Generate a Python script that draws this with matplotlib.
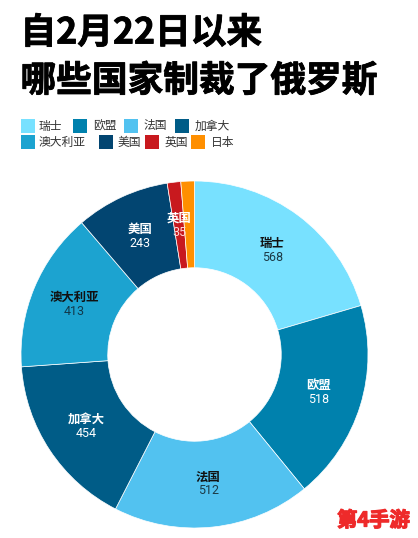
import numpy as np
import matplotlib
matplotlib.use("Agg")
import matplotlib.pyplot as plt
from matplotlib.patches import Rectangle
import matplotlib.patheffects as pe

plt.rcParams['font.family'] = ['Noto Sans CJK SC', 'DejaVu Sans']

categories = ["瑞士", "欧盟", "法国", "加拿大", "澳大利亚", "美国", "英国", "日本"]
values = [568, 518, 512, 454, 413, 243, 35, 35]
colors = ["#78E1FF", "#0081AD", "#52C2F0", "#005C87", "#1CA3D0", "#024571", "#C8191E", "#FF8F00"]
label_colors = ["#111111", "#FFFFFF", "#111111", "#FFFFFF", "#111111", "#FFFFFF", "#FFFFFF", None]
value_colors = ["#1c3a46", "#FFFFFF", "#1c3a46", "#FFFFFF", "#12384a", "#FFFFFF", "#FFD9D9", None]
title_lines = ["自2月22日以来", "哪些国家制裁了俄罗斯"]
watermark = "第4手游"

W, H = 418, 538
fig = plt.figure(figsize=(W / 100, H / 100), dpi=100, facecolor="white")

def fx(x):
    return x / W

def fy(y):
    return 1 - y / H

# Donut
cx, cy, R = 194.5, 354.5, 173.5
ax = fig.add_axes([fx(cx - R), fy(cy + R), 2 * R / W, 2 * R / H])
wedges, _ = ax.pie(values, colors=colors, startangle=90, counterclock=False, radius=1,
                   wedgeprops=dict(width=0.5, edgecolor="white", linewidth=0.5))
ax.set_xlim(-1, 1)
ax.set_ylim(-1, 1)
ax.set_aspect("equal")
ax.axis("off")

label_r = 0.75
for w, name, val, lc, vc in zip(wedges, categories, values, label_colors, value_colors):
    if lc is None:
        continue
    a = np.deg2rad((w.theta1 + w.theta2) / 2)
    x, y = label_r * np.cos(a), label_r * np.sin(a)
    offs = 7 / R
    ax.text(x, y + offs, name, color=lc, fontsize=8.9, fontweight="bold", ha="center", va="center", zorder=5)
    ax.text(x, y - offs, str(val), color=vc, fontsize=9.0, family=["Roboto", "DejaVu Sans"],
            ha="center", va="center", zorder=5)

# Title
for line, y in zip(title_lines, [33, 81]):
    fig.text(fx(20.5), fy(y), line, fontsize=25.7, fontweight="bold", color="#000000", ha="left", va="center",
             path_effects=[pe.withStroke(linewidth=0.6, foreground="#000000")])

# Legend
legend_layout = [(21, 119, 39), (73, 119, 93), (124, 119, 144), (175, 119, 195),
                 (21, 135, 39), (99, 135, 118), (145, 135, 165), (191, 135, 211)]
for (sx, sy, tx), name, c in zip(legend_layout, categories, colors):
    fig.add_artist(Rectangle((fx(sx), fy(sy + 14)), 14 / W, 14 / H, transform=fig.transFigure,
                             facecolor=c, edgecolor="none"))
    fig.text(fx(tx), fy(sy + 7), name, fontsize=8.5, color="#333333", ha="left", va="center",
             fontweight="medium")

# Watermark
fig.text(fx(337), fy(520), watermark, fontsize=14.6, fontweight="bold", color="#EE2A2A", ha="left", va="center",
         path_effects=[pe.withStroke(linewidth=0.9, foreground="#EE2A2A")])

fig.savefig("out.png", dpi=100, facecolor="white")
